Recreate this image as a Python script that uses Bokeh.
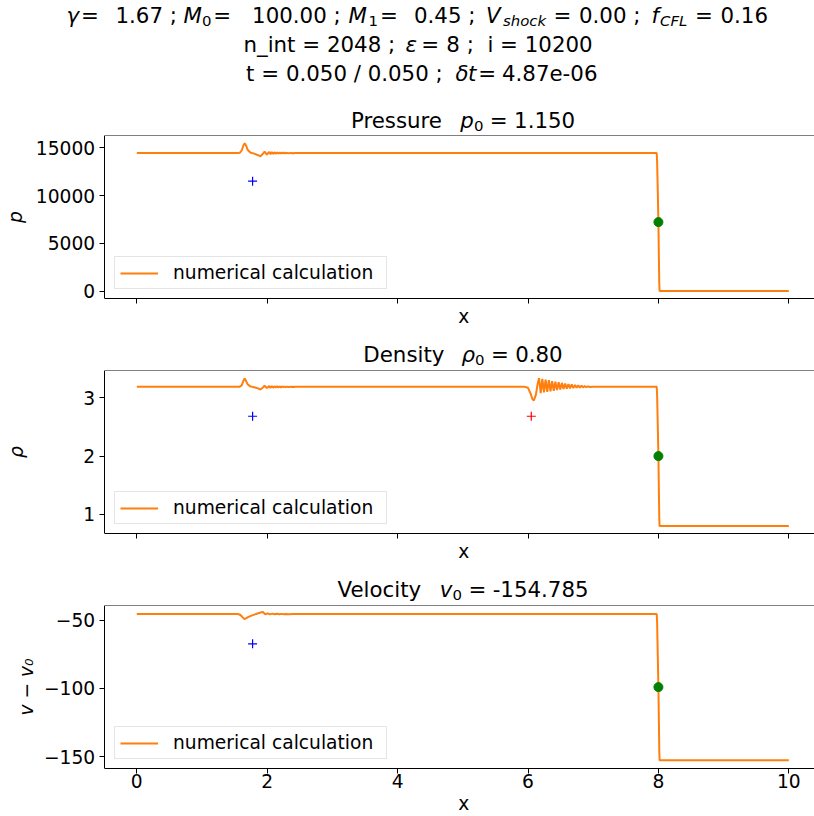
from bokeh.plotting import figure
from bokeh.models import Range1d, FixedTicker, Label, LinearAxis
from bokeh.layouts import column
from bokeh.embed import file_html
from bokeh.resources import INLINE

# ---------------- data ----------------
X_TICKS = [0, 2, 4, 6, 8, 10]
P_TICKS = [0, 5000, 10000, 15000]
D_TICKS = [1, 2, 3]
V_TICKS = [-150, -100, -50]
V_TICK_LABELS = {-150: "\u2212150", -100: "\u2212100", -50: "\u221250"}

P_X = [0.0, 1.55, 1.58, 1.61, 1.635, 1.655, 1.675, 1.70, 1.74, 1.80, 1.86, 1.895,
       1.93, 1.96, 1.995, 2.03, 2.05, 2.07, 2.09, 2.11, 2.13, 2.15, 2.17, 2.19,
       2.21, 2.23, 2.25, 2.27, 2.29, 2.31, 2.33, 2.35, 2.37, 2.39, 2.41, 2.43,
       2.50, 7.974, 7.980, 7.990, 8.000, 8.008, 8.013, 8.018, 10.0]
P_Y = [14450, 14450, 14480, 14750, 15250, 15490, 15250, 14800, 14520, 14400, 14230, 14110,
       14350, 14610, 14290, 14580, 14340, 14560, 14360, 14540, 14380, 14525, 14395, 14510,
       14405, 14500, 14415, 14490, 14420, 14480, 14428, 14472, 14435, 14465, 14440, 14458,
       14450, 14450, 13600, 10600, 7225, 3200, 800, 1.15, 1.15]

D_X = [0.0, 1.55, 1.58, 1.61, 1.635, 1.655, 1.675, 1.70, 1.74, 1.80, 1.86, 1.895,
       1.93, 1.96, 1.995, 2.03, 2.05, 2.07, 2.09, 2.11, 2.13, 2.15, 2.17, 2.19,
       2.21, 2.23, 2.25, 2.27, 2.29, 2.31, 2.33, 2.35, 2.37, 2.39, 2.41, 2.43, 2.50,
       5.95, 6.00, 6.04, 6.07, 6.09, 6.12, 6.15, 6.17, 6.195, 6.22, 6.245, 6.27,
       6.295, 6.32, 6.345, 6.37, 6.395, 6.42, 6.445, 6.47, 6.495, 6.52, 6.545, 6.57,
       6.595, 6.62, 6.645, 6.67, 6.695, 6.72, 6.745, 6.77, 6.795, 6.82, 6.845, 6.87,
       6.895, 6.92, 6.95, 7.00,
       7.974, 7.980, 7.990, 8.000, 8.008, 8.013, 8.018, 10.0]
D_Y = [3.187, 3.187, 3.19, 3.215, 3.29, 3.33, 3.29, 3.23, 3.195, 3.18, 3.16, 3.14,
       3.17, 3.205, 3.165, 3.20, 3.17, 3.198, 3.172, 3.196, 3.175, 3.195, 3.177, 3.194,
       3.179, 3.193, 3.18, 3.192, 3.181, 3.191, 3.182, 3.19, 3.183, 3.189, 3.184, 3.188, 3.187,
       3.187, 3.17, 3.07, 2.97, 2.955, 3.05, 3.25, 3.335, 3.08, 3.325, 3.09, 3.31,
       3.10, 3.30, 3.11, 3.285, 3.12, 3.275, 3.13, 3.265, 3.14, 3.255, 3.15, 3.245,
       3.155, 3.235, 3.16, 3.228, 3.165, 3.22, 3.17, 3.213, 3.174, 3.207, 3.177, 3.202,
       3.18, 3.197, 3.183, 3.19,
       3.187, 3.05, 2.55, 2.0, 1.35, 0.95, 0.8, 0.8]

V_X = [0.0, 1.55, 1.59, 1.62, 1.65, 1.68, 1.72, 1.78, 1.85, 1.90, 1.935, 1.97,
       2.005, 2.04, 2.08, 2.115, 2.15, 2.185, 2.22, 2.26, 2.29, 2.33, 2.40,
       7.974, 7.980, 7.990, 8.000, 8.008, 8.013, 8.018, 10.0]
V_Y = [-45.3, -45.3, -46.0, -47.6, -49.0, -48.3, -47.2, -46.1, -44.9, -44.2, -43.8, -45.6,
       -44.8, -45.6, -45.0, -45.5, -45.1, -45.5, -45.2, -45.45, -45.25, -45.4, -45.3,
       -45.3, -51.0, -75.0, -99.0, -126.0, -145.0, -152.7, -152.7]

SHOCK_X = [8.0]
SHOCK_P = [7225]
SHOCK_D = [2.0]
SHOCK_V = [-99.0]

BLUE_X = [1.776]
BLUE_P = [11510]
BLUE_D = [2.683]
BLUE_V = [-67.2]

RED_X = [6.05]
RED_D = [2.683]

NB = "\u00a0"
HEADER_1 = [("\u03b3", "i", 66), ("=", "n", 80.5), ("1.67 ;", "n", 115),
            ("M", "i", 183), ("0", "sn", 201.5), ("=", "n", 212.7), ("100.00 ;", "n", 251.6),
            ("M", "i", 348), ("1", "sn", 368), ("=", "n", 379.5), ("0.45 ;", "n", 413.5),
            ("V", "i", 485.5), ("shock", "si", 502.5), ("=", "n", 553), ("0.00 ;", "n", 578.5),
            ("f", "i", 651), ("CFL", "si", 659.5), ("=", "n", 694.5), ("0.16", "n", 720)]
HEADER_2 = [("n_int = 2048 ;", "n", 243), ("\u03b5", "i", 405), ("=", "n", 420.7),
            ("8 ;" + NB + NB + "i = 10200", "n", 445.8)]
HEADER_3 = [("t = 0.050 / 0.050 ;", "n", 245.6), ("\u03b4", "i", 455), ("t", "i", 467.5),
            ("=", "n", 477.7), ("4.87e-06", "n", 501.5)]

TITLE_P = [("Pressure", "n", 0), ("p", "i", 0.8), ("0", "sn", 0), ("=", "n", 0.3), ("1.150", "n", 0.3)]
TITLE_D = [("Density", "n", 0), ("\u03c1", "i", 0.8), ("0", "sn", 0), ("=", "n", 0.3), ("0.80", "n", 0.3)]
TITLE_V = [("Velocity", "n", 0), ("v", "i", 0.8), ("0", "sn", 0), ("=", "n", 0.3), ("-154.785", "n", 0.3)]

# ---------------- style ----------------
FONT = "DejaVu Sans"
ORANGE = "#ff7f0e"
TICK_FS = "18.67px"
HEAD = 21.33
SUB = 0.7
SUB_DROP = 3.0
BASE_FIX = -0.33   # em; compensates label baseline placement
X_START, X_END = -2.0905, 10.394   # frame covers the whole 814 px width
X_BOUNDS = (-0.5, 10.5)
X_LABEL = NB * 19 + "x"            # centres the label under the full axes width

# DejaVu Sans advance widths (em)
W = {" ": .318, ".": .318, ";": .337, "=": .838, "/": .337, "-": .361, "_": .5,
     "0": .636, "1": .636, "2": .636, "3": .636, "4": .636, "5": .636, "6": .636,
     "7": .636, "8": .636, "9": .636, "P": .603, "r": .411, "e": .615, "s": .521,
     "u": .634, "D": .770, "n": .634, "i": .278, "t": .392, "y": .592, "V": .684,
     "l": .278, "o": .612, "c": .550, "p": .635, "v": .592, "\u03c1": .635}


def text_fig(h):
    f = figure(width=814, height=h, x_range=Range1d(0, 814), y_range=Range1d(h, 0),
               output_backend="svg", toolbar_location=None, title=None,
               x_axis_type=None, y_axis_type=None,
               min_border_left=0, min_border_right=0, min_border_top=0, min_border_bottom=0)
    f.outline_line_color = None
    f.background_fill_color = "white"
    f.border_fill_color = "white"
    return f


def lab(f, x, y, text, size, italic=False):
    f.add_layout(Label(x=x, y=y + BASE_FIX * size, text=text, text_font=FONT,
                       text_font_size="%.2fpx" % size,
                       text_font_style="italic" if italic else "normal",
                       text_baseline="alphabetic", text_align="left",
                       text_color="black"))


def seg_style(st):
    size = HEAD * (SUB if st.startswith("s") else 1.0)
    drop = SUB_DROP if st.startswith("s") else 0.0
    return size, drop, st.endswith("i")


def anchored_line(f, segs, base):
    for text, st, x in segs:
        size, drop, it = seg_style(st)
        lab(f, x, base + drop, text, size, it)


def centered_line(f, segs, cx, base):
    total = 0.0
    for text, st, gap in segs:
        size, drop, it = seg_style(st)
        total += gap * HEAD + sum(W.get(c, .6) for c in text) * size
    x = cx - total / 2.0
    for text, st, gap in segs:
        size, drop, it = seg_style(st)
        x += gap * HEAD
        lab(f, x, base + drop, text, size, it)
        x += sum(W.get(c, .6) for c in text) * size


def style_axis(ax):
    ax.axis_line_color = "black"
    ax.axis_line_width = 1
    ax.major_tick_line_color = "black"
    ax.major_tick_out = 5
    ax.major_tick_in = 0
    ax.minor_tick_line_color = None
    ax.major_label_text_font = FONT
    ax.major_label_text_font_size = TICK_FS
    ax.major_label_text_color = "black"
    ax.axis_label_text_font = FONT
    ax.axis_label_text_font_size = TICK_FS
    ax.axis_label_text_color = "black"


def panel(h, bottom, yr, yticks, ylabel, ylab_standoff, xlabels,
          xs, ys, bx, by, sx, sy, rx=None, ry=None, overrides=None):
    p = figure(width=814, height=h, x_range=Range1d(X_START, X_END), y_range=Range1d(*yr),
               output_backend="svg", toolbar_location=None, title=None,
               min_border_left=0, min_border_right=0, min_border_top=1,
               min_border_bottom=bottom)
    p.grid.visible = False
    p.outline_line_color = None
    p.background_fill_color = "white"
    p.border_fill_color = "white"
    xa = p.xaxis[0]
    ya = p.yaxis[0]
    style_axis(xa)
    style_axis(ya)
    xa.ticker = FixedTicker(ticks=X_TICKS)
    xa.bounds = X_BOUNDS
    xa.axis_label = X_LABEL
    xa.axis_label_text_font_style = "normal"
    xa.axis_label_standoff = 2
    xa.major_label_standoff = 0
    if not xlabels:
        xa.major_label_text_color = None
    ya.fixed_location = X_BOUNDS[0]
    ya.ticker = FixedTicker(ticks=yticks)
    ya.axis_label = ylabel
    ya.axis_label_text_font_style = "italic"
    ya.axis_label_standoff = ylab_standoff
    ya.major_label_standoff = 4
    if overrides:
        ya.major_label_overrides = overrides
    top = LinearAxis(fixed_location=yr[1], bounds=X_BOUNDS, ticker=FixedTicker(ticks=X_TICKS))
    style_axis(top)
    top.major_tick_line_color = None
    top.major_label_text_color = None
    p.add_layout(top, "above")

    p.line(xs, ys, line_color=ORANGE, line_width=2, legend_label="numerical calculation")
    p.scatter(bx, by, marker="cross", size=9, line_color="blue", line_width=1.2)
    if rx is not None:
        p.scatter(rx, ry, marker="cross", size=9, line_color="red", line_width=1.2)
    p.scatter(sx, sy, marker="circle", size=9, fill_color="green", line_color="green")

    lg = p.legend[0]
    lg.location = (114, 9)
    lg.label_text_font = FONT
    lg.label_text_font_size = TICK_FS
    lg.label_text_color = "black"
    lg.border_line_color = "#cccccc"
    lg.background_fill_alpha = 0.8
    lg.padding = 5
    lg.spacing = 0
    lg.margin = 0
    lg.glyph_width = 38
    lg.glyph_height = 20
    lg.label_height = 21
    lg.label_width = 208
    lg.label_standoff = 15
    return p


# header (suptitle + pressure title)
f0 = text_fig(134)
anchored_line(f0, HEADER_1, 22)
anchored_line(f0, HEADER_2, 51)
anchored_line(f0, HEADER_3, 80)
centered_line(f0, TITLE_P, 462.5, 127)

f1 = panel(206, 42, (-775, 16295), P_TICKS, "p", 7, False,
           P_X, P_Y, BLUE_X, BLUE_P, SHOCK_X, SHOCK_P)

f2 = text_fig(29)
centered_line(f2, TITLE_D, 462.5, 21)

f3 = panel(206, 42, (0.673, 3.467), D_TICKS, "\u03c1", 54, False,
           D_X, D_Y, BLUE_X, BLUE_D, SHOCK_X, SHOCK_D, RED_X, RED_D)

f4 = text_fig(29)
centered_line(f4, TITLE_V, 462.5, 21)

f5 = panel(212, 48, (-158.8, -39.05), V_TICKS, "v \u2212 v\u2080", 4, True,
           V_X, V_Y, BLUE_X, BLUE_V, SHOCK_X, SHOCK_V, overrides=V_TICK_LABELS)

layout = column(f0, f1, f2, f3, f4, f5, spacing=0)
open("out.html", "w").write(file_html(layout, INLINE))
